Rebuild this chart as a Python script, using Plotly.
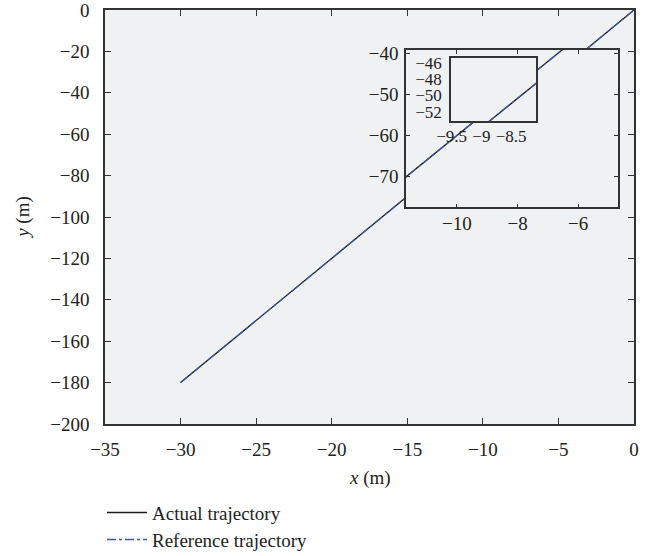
import plotly.graph_objects as go

# Data
actual_x = [-30, -25, -20, -15, -10, -5, 0]
actual_y = [-180, -150, -120, -90, -60, -30, 0]
ref_x = [-30, -25, -20, -15, -10, -5, 0]
ref_y = [-180, -150, -120, -90, -60, -30, 0]

main_xticks = [-35, -30, -25, -20, -15, -10, -5, 0]
main_yticks = [0, -20, -40, -60, -80, -100, -120, -140, -160, -180, -200]
inset_xticks = [-10, -8, -6]
inset_yticks = [-40, -50, -60, -70]
nest_xticks = [-9.5, -9, -8.5]
nest_yticks = [-46, -48, -50, -52]

FONT = "Liberation Serif"
TXT = "#222222"
BLACK = "#1a1a1a"
BLUE = "#3a5aa8"
AXC = "#333333"

fig = go.Figure()

axes = [("x", "y"), ("x2", "y2"), ("x3", "y3")]
for i, (xa, ya) in enumerate(axes):
    fig.add_trace(go.Scatter(x=actual_x, y=actual_y, mode="lines", xaxis=xa, yaxis=ya,
                             line=dict(color=BLACK, width=1.3),
                             name="Actual trajectory", showlegend=(i == 0), legend="legend"))
    fig.add_trace(go.Scatter(x=ref_x, y=ref_y, mode="lines", xaxis=xa, yaxis=ya,
                             line=dict(color=BLUE, width=1.3, dash="dashdot"),
                             name="Reference trajectory", showlegend=(i == 0), legend="legend2"))

def common(size):
    return dict(showgrid=False, zeroline=False, showline=True, linecolor=AXC, linewidth=1.5,
                mirror="ticks", ticks="inside", tickcolor=AXC, automargin=False,
                tickfont=dict(family=FONT, size=size, color=TXT), tickangle=0)

nest = common(17)
nest["ticks"] = ""

fig.update_layout(
    width=655, height=556,
    margin=dict(l=105, r=21, t=10, b=132, autoexpand=False),
    paper_bgcolor="white",
    plot_bgcolor="#f0f1f3",
    font=dict(family=FONT, size=19, color=TXT),
    xaxis=dict(range=[-35, 0], tickvals=main_xticks, ticklen=6, ticklabelstandoff=7, **common(19)),
    yaxis=dict(range=[-200, 0], tickvals=main_yticks, ticklen=6, ticklabelstandoff=10, **common(19)),
    xaxis2=dict(domain=[0.569, 0.969], anchor="y2", range=[-11.68, -4.70], tickvals=inset_xticks,
                ticklen=4, ticklabelstandoff=-2, **common(19)),
    yaxis2=dict(domain=[0.523, 0.9035], anchor="x2", range=[-77.5, -39.2], tickvals=inset_yticks,
                ticklen=4, ticklabelstandoff=2, **common(19)),
    xaxis3=dict(domain=[0.654, 0.815], anchor="y3", range=[-9.51, -8.08], tickvals=nest_xticks,
                ticklen=0, ticklabelstandoff=-1, **nest),
    yaxis3=dict(domain=[0.732, 0.8834], anchor="x3", range=[-53.16, -45.38], tickvals=nest_yticks,
                ticklen=0, ticklabelstandoff=4, **nest),
    legend=dict(x=-0.0057, y=-0.2141, xanchor="left", yanchor="middle",
                bgcolor="rgba(0,0,0,0)", itemwidth=40,
                font=dict(family=FONT, size=19, color=TXT)),
    legend2=dict(x=-0.0057, y=-0.2793, xanchor="left", yanchor="middle",
                 bgcolor="rgba(0,0,0,0)", itemwidth=40,
                 font=dict(family=FONT, size=19, color=TXT)),
    shapes=[
        dict(type="rect", xref="x2 domain", yref="y2 domain", x0=0, x1=1, y0=0, y1=1,
             fillcolor="white", line=dict(width=0), layer="below"),
        dict(type="rect", xref="x3 domain", yref="y3 domain", x0=0, x1=1, y0=0, y1=1,
             fillcolor="white", line=dict(width=0), layer="below"),
    ],
    annotations=[
        dict(text="<i>x</i> (m)", xref="paper", yref="paper", x=0.501, y=-0.1296,
             xanchor="center", yanchor="middle", showarrow=False,
             font=dict(family=FONT, size=19, color=TXT)),
        dict(text="<i>y</i> (m)", xref="paper", yref="paper", x=-0.155, y=0.498,
             xanchor="center", yanchor="middle", showarrow=False, textangle=-90,
             font=dict(family=FONT, size=19, color=TXT)),
    ],
)

fig.write_html("out.html", config={"displayModeBar": False},
               post_script="document.body.style.margin='0px';")
